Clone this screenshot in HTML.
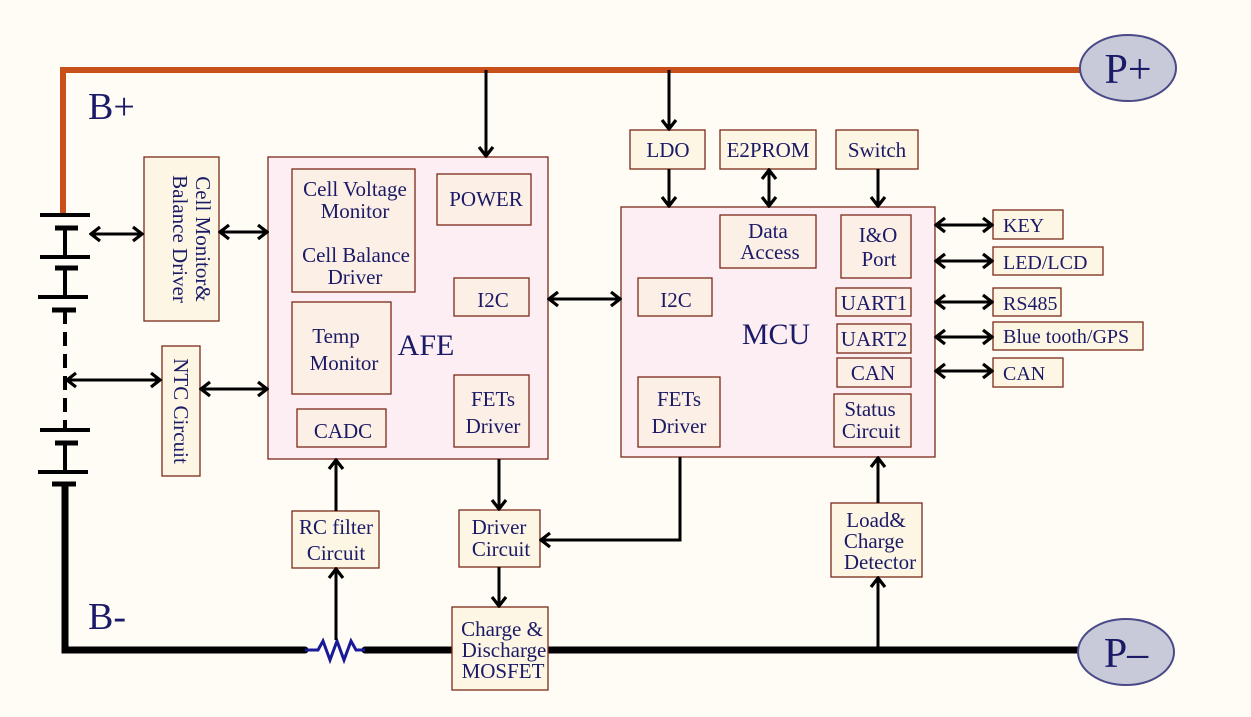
<!DOCTYPE html>
<html><head><style>
html,body{margin:0;padding:0;background:#fffcf6;}
svg{display:block;}
text{font-family:"Liberation Serif",serif;fill:#1a1a66;}
</style></head><body>
<svg width="1251" height="717" viewBox="0 0 1251 717" xmlns="http://www.w3.org/2000/svg">
<defs>
<marker id="a" markerWidth="14" markerHeight="18" refX="12" refY="9" orient="auto-start-reverse" markerUnits="userSpaceOnUse">
<polyline points="3,2 12,9 3,16" fill="none" stroke="#000" stroke-width="3.2"/>
</marker>
</defs>
<rect width="1251" height="717" fill="#fffcf6"/>
<path d="M63,215 V70 H1085" fill="none" stroke="#c8501a" stroke-width="6"/>
<path d="M65,485 V650 H305 M365,650 H452 M548,650 H1082" fill="none" stroke="#000" stroke-width="7" stroke-linecap="round"/>
<polyline points="305,650 318,650 323,641 330,660 337,641 344,660 351,641 356,650 365,650" fill="none" stroke="#1a1a99" stroke-width="3"/>
<ellipse cx="1128" cy="68" rx="48" ry="33" fill="#c9cad9" stroke="#4a4a88" stroke-width="2"/>
<text x="1128" y="83" font-size="42" text-anchor="middle">P+</text>
<ellipse cx="1126" cy="652" rx="48" ry="33" fill="#c9cad9" stroke="#4a4a88" stroke-width="2"/>
<text x="1126" y="667" font-size="42" text-anchor="middle">P–</text>
<text x="88" y="119" font-size="38">B+</text>
<text x="88" y="629" font-size="38">B-</text>
<g stroke="#000" stroke-width="4">
<line x1="40" y1="215" x2="90" y2="215"/><line x1="55" y1="228" x2="78" y2="228" stroke-width="5"/>
<line x1="65" y1="228" x2="65" y2="257"/>
<line x1="40" y1="257" x2="90" y2="257"/><line x1="55" y1="268" x2="78" y2="268" stroke-width="5"/>
<line x1="65" y1="268" x2="65" y2="297"/>
<line x1="38" y1="297" x2="88" y2="297"/><line x1="52" y1="310" x2="76" y2="310" stroke-width="5"/>
<line x1="65" y1="310" x2="65" y2="430" stroke-dasharray="14,8"/>
<line x1="40" y1="430" x2="90" y2="430"/><line x1="55" y1="443" x2="78" y2="443" stroke-width="5"/>
<line x1="65" y1="443" x2="65" y2="472"/>
<line x1="38" y1="472" x2="88" y2="472"/><line x1="52" y1="484" x2="76" y2="484" stroke-width="5"/>
</g>
<g stroke="#7a2a1a" stroke-width="1.3">
<rect x="144" y="157" width="75" height="164" fill="#fdf6e4"/>
<rect x="162" y="346" width="38" height="130" fill="#fdf6e4"/>
<rect x="268" y="157" width="280" height="302" fill="#fdeef3"/>
<rect x="292" y="169" width="123" height="123" fill="#fcefe6"/>
<rect x="437" y="174" width="94" height="51" fill="#fcefe6"/>
<rect x="454" y="278" width="75" height="38" fill="#fcefe6"/>
<rect x="292" y="302" width="99" height="92" fill="#fcefe6"/>
<rect x="297" y="409" width="89" height="38" fill="#fcefe6"/>
<rect x="454" y="375" width="75" height="72" fill="#fcefe6"/>
<rect x="621" y="207" width="314" height="250" fill="#fdeef3"/>
<rect x="720" y="215" width="96" height="53" fill="#fcefe6"/>
<rect x="841" y="215" width="70" height="63" fill="#fcefe6"/>
<rect x="638" y="278" width="74" height="38" fill="#fcefe6"/>
<rect x="836" y="288" width="75" height="28" fill="#fcefe6"/>
<rect x="837" y="324" width="74" height="29" fill="#fcefe6"/>
<rect x="837" y="358" width="74" height="29" fill="#fcefe6"/>
<rect x="834" y="394" width="77" height="53" fill="#fcefe6"/>
<rect x="638" y="377" width="82" height="70" fill="#fcefe6"/>
<rect x="630" y="130" width="75" height="39" fill="#fdf6e4"/>
<rect x="720" y="130" width="96" height="39" fill="#fdf6e4"/>
<rect x="836" y="130" width="82" height="39" fill="#fdf6e4"/>
<rect x="993" y="210" width="70" height="29" fill="#fdf6e4"/>
<rect x="993" y="247" width="110" height="28" fill="#fdf6e4"/>
<rect x="993" y="288" width="68" height="28" fill="#fdf6e4"/>
<rect x="993" y="322" width="150" height="28" fill="#fdf6e4"/>
<rect x="993" y="358" width="70" height="29" fill="#fdf6e4"/>
<rect x="292" y="511" width="87" height="57" fill="#fdf6e4"/>
<rect x="459" y="510" width="81" height="57" fill="#fdf6e4"/>
<rect x="452" y="607" width="96" height="83" fill="#fdf6e4"/>
<rect x="831" y="503" width="91" height="74" fill="#fdf6e4"/>
</g>
<g stroke="#000" stroke-width="3" fill="none">
<line x1="91" y1="234" x2="142" y2="234" marker-start="url(#a)" marker-end="url(#a)"/>
<line x1="220" y1="232" x2="267" y2="232" marker-start="url(#a)" marker-end="url(#a)"/>
<line x1="67" y1="380" x2="160" y2="380" marker-start="url(#a)" marker-end="url(#a)"/>
<line x1="201" y1="389" x2="267" y2="389" marker-start="url(#a)" marker-end="url(#a)"/>
<line x1="486" y1="70" x2="486" y2="156" marker-end="url(#a)"/>
<line x1="549" y1="299" x2="620" y2="299" marker-start="url(#a)" marker-end="url(#a)"/>
<line x1="669" y1="70" x2="669" y2="129" marker-end="url(#a)"/>
<line x1="669" y1="169" x2="669" y2="206" marker-end="url(#a)"/>
<line x1="769" y1="170" x2="769" y2="206" marker-start="url(#a)" marker-end="url(#a)"/>
<line x1="878" y1="169" x2="878" y2="206" marker-end="url(#a)"/>
<line x1="936" y1="225" x2="992" y2="225" marker-start="url(#a)" marker-end="url(#a)"/>
<line x1="936" y1="261" x2="992" y2="261" marker-start="url(#a)" marker-end="url(#a)"/>
<line x1="936" y1="302" x2="992" y2="302" marker-start="url(#a)" marker-end="url(#a)"/>
<line x1="936" y1="337" x2="992" y2="337" marker-start="url(#a)" marker-end="url(#a)"/>
<line x1="936" y1="371" x2="992" y2="371" marker-start="url(#a)" marker-end="url(#a)"/>
<line x1="336" y1="511" x2="336" y2="460" marker-end="url(#a)"/>
<line x1="336" y1="640" x2="336" y2="569" marker-end="url(#a)"/>
<line x1="499" y1="459" x2="499" y2="509" marker-end="url(#a)"/>
<line x1="499" y1="567" x2="499" y2="606" marker-end="url(#a)"/>
<polyline points="680,457 680,540 541,540" marker-end="url(#a)"/>
<line x1="878" y1="503" x2="878" y2="458" marker-end="url(#a)"/>
<line x1="878" y1="647" x2="878" y2="578" marker-end="url(#a)"/>
</g>
<g font-size="21" text-anchor="middle">
<text transform="translate(196,239) rotate(90)">Cell Monitor&amp;</text>
<text transform="translate(173,239) rotate(90)">Balance Driver</text>
<text transform="translate(174,411) rotate(90)">NTC Circuit</text>
<text x="355" y="196">Cell Voltage</text>
<text x="355" y="218">Monitor</text>
<text x="356" y="262">Cell Balance</text>
<text x="355" y="284">Driver</text>
<text x="486" y="206">POWER</text>
<text x="493" y="307">I2C</text>
<text x="336" y="343">Temp</text>
<text x="344" y="370">Monitor</text>
<text x="343" y="438">CADC</text>
<text x="493" y="406">FETs</text>
<text x="493" y="433">Driver</text>
<text x="768" y="238">Data</text>
<text x="770" y="259">Access</text>
<text x="878" y="242">I&amp;O</text>
<text x="879" y="266">Port</text>
<text x="676" y="307">I2C</text>
<text x="874" y="310">UART1</text>
<text x="874" y="346">UART2</text>
<text x="873" y="380">CAN</text>
<text x="870" y="416">Status</text>
<text x="871" y="438">Circuit</text>
<text x="679" y="406">FETs</text>
<text x="679" y="433">Driver</text>
<text x="668" y="157">LDO</text>
<text x="768" y="157">E2PROM</text>
<text x="877" y="157">Switch</text>
<text x="336" y="534">RC filter</text>
<text x="336" y="560">Circuit</text>
<text x="499" y="534">Driver</text>
<text x="501" y="556">Circuit</text>
<text x="502" y="636">Charge &amp;</text>
<text x="504" y="657">Discharge</text>
<text x="503" y="678">MOSFET</text>
<text x="876" y="527">Load&amp;</text>
<text x="874" y="548">Charge</text>
<text x="880" y="569">Detector</text>
</g>
<g font-size="20">
<text x="1003" y="232">KEY</text>
<text x="1003" y="269">LED/LCD</text>
<text x="1003" y="310">RS485</text>
<text x="1003" y="343">Blue tooth/GPS</text>
<text x="1003" y="380">CAN</text>
</g>
<text x="426" y="355" font-size="30" text-anchor="middle">AFE</text>
<text x="776" y="344" font-size="30" text-anchor="middle">MCU</text>
</svg>
</body></html>
